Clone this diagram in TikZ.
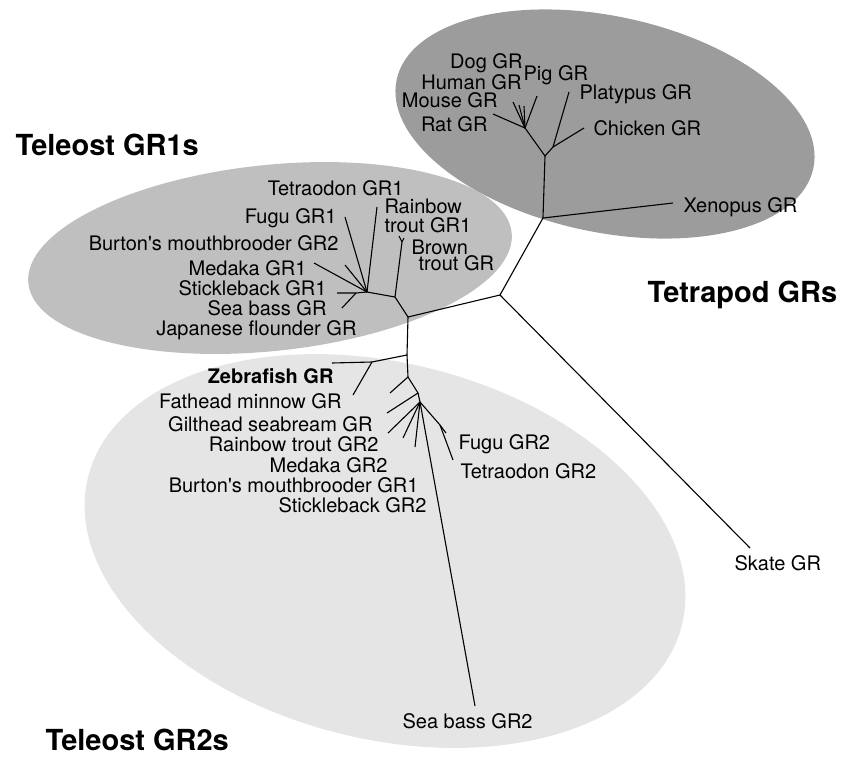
\documentclass[tikz,border=0pt]{standalone}
\usepackage{fontspec}
\setmainfont{TeX Gyre Heros}
\usetikzlibrary{positioning}

\definecolor{tetrafill}{gray}{0.61}
\definecolor{gronefill}{gray}{0.75}
\definecolor{grtwofill}{gray}{0.90}

\begin{document}
\begin{tikzpicture}[x=1pt, y=-1pt, line width=1.1pt,
    every node/.style={font=\fontsize{20}{18}\selectfont, inner sep=0pt},
    grp/.style={font=\bfseries\fontsize{29}{30}\selectfont}]
    \useasboundingbox (0,0) rectangle (849,756);

    % group shading
    \fill[grtwofill, rotate around={-14:(385,551)}] (385,551) ellipse [x radius=306, y radius=188];
    \fill[gronefill, rotate around={6:(270,258)}] (270,258) ellipse [x radius=243, y radius=93];
    \fill[tetrafill, rotate around={-12:(605,124)}] (605,124) ellipse [x radius=213, y radius=108];

    % inner points of the tree
    \coordinate (root) at (500,295);
    \coordinate (tp) at (543,218);
    \coordinate (tpa) at (545,156);
    \coordinate (mam) at (525,128);
    \coordinate (bird) at (553,147);
    \coordinate (tel) at (408,317);
    \coordinate (one) at (395,297);
    \coordinate (trout) at (402,242);
    \coordinate (perc) at (367,292);
    \coordinate (sb) at (356,293);
    \coordinate (two) at (407,355);
    \coordinate (cyp) at (372,362);
    \coordinate (twoa) at (408,377);
    \coordinate (twob) at (418,393);
    \coordinate (twoc) at (420,402);
    \coordinate (puf) at (440,425);

    % tips
    \coordinate (xenopust) at (673,203);
    \coordinate (platypust) at (569,92);
    \coordinate (chickent) at (584,128);
    \coordinate (ratt) at (493,114);
    \coordinate (mouset) at (513,102);
    \coordinate (humant) at (519,105);
    \coordinate (dogt) at (524,106);
    \coordinate (pigt) at (537,96);
    \coordinate (skatet) at (750,548);
    \coordinate (rainbowt) at (399,236);
    \coordinate (brownt) at (404,238);
    \coordinate (tetraodont) at (377,207);
    \coordinate (fugut) at (345,217);
    \coordinate (burtont) at (345,265);
    \coordinate (medakat) at (314,263);
    \coordinate (sticklebackt) at (337,293);
    \coordinate (seabasst) at (342,308);
    \coordinate (zebrafisht) at (332,363);
    \coordinate (fatheadt) at (353,395);
    \coordinate (giltheadt) at (390,393);
    \coordinate (rainbowtwot) at (387,413);
    \coordinate (medakatwot) at (388,433);
    \coordinate (burtontwot) at (403,438);
    \coordinate (sticklebacktwot) at (415,447);
    \coordinate (fugutwot) at (446,433);
    \coordinate (tetraodontwot) at (453,460);
    \coordinate (seabasstwot) at (475,706);

    % branches
    \draw (skatet) -- (root) -- (tel);
    \draw (root) -- (tp) -- (tpa) -- (mam);
    \draw (tp) -- (xenopust);
    \draw (tpa) -- (bird) -- (platypust);
    \draw (bird) -- (chickent);
    \draw (mam) -- (ratt);
    \draw (mam) -- (mouset);
    \draw (mam) -- (humant);
    \draw (mam) -- (dogt);
    \draw (mam) -- (pigt);
    \draw (tel) -- (one) -- (trout) -- (rainbowt);
    \draw (trout) -- (brownt);
    \draw (one) -- (perc) -- (tetraodont);
    \draw (perc) -- (fugut);
    \draw (perc) -- (burtont);
    \draw (perc) -- (medakat);
    \draw (perc) -- (sb) -- (sticklebackt);
    \draw (sb) -- (seabasst);
    \draw (tel) -- (two) -- (cyp) -- (zebrafisht);
    \draw (cyp) -- (fatheadt);
    \draw (two) -- (twoa) -- (giltheadt);
    \draw (twoa) -- (twob) -- (rainbowtwot);
    \draw (twob) -- (twoc) -- (medakatwot);
    \draw (twoc) -- (burtontwot);
    \draw (twoc) -- (sticklebacktwot);
    \draw (twoc) -- (seabasstwot);
    \draw (twoc) -- (puf) -- (fugutwot);
    \draw (puf) -- (tetraodontwot);

    % tetrapods
    \node[anchor=base east] (dog) at (523,68) {Dog GR};
    \node[anchor=base west] (pig) at (523,80) {Pig GR};
    \node[anchor=base east] (human) at (522,89) {Human GR};
    \node[anchor=base east] (mouse) at (498,107) {Mouse GR};
    \node[anchor=base east] (rat) at (488,131) {Rat GR};
    \node[anchor=base west] (platypus) at (579,99) {Platypus GR};
    \node[anchor=base west] (chicken) at (593,135) {Chicken GR};
    \node[anchor=base west] (xenopus) at (683,212) {Xenopus GR};
    \node[anchor=base west] (skate) at (734,570) {Skate GR};

    % teleost GR1
    \node[anchor=base east] (tetraodon) at (404,195) {Tetraodon GR1};
    \node[anchor=north west, align=left, font=\fontsize{20}{19}\selectfont] (rainbow) at (384,198) {Rainbow\\trout GR1};
    \node[anchor=north west, align=left, font=\fontsize{20}{16}\selectfont] (brown) at (411,239) {Brown\\\hspace*{7pt}trout GR};
    \node[anchor=base east] (fugu) at (337,223) {Fugu GR1};
    \node[anchor=base east] (burton) at (339,250) {Burton\textquotesingle s mouthbrooder GR2};
    \node[anchor=base east] (medaka) at (307,275) {Medaka GR1};
    \node[anchor=base east] (stickleback) at (327,295) {Stickleback GR1};
    \node[anchor=base east] (seabass) at (327,315) {Sea bass GR};
    \node[anchor=base east] (flounder) at (357,335) {Japanese flounder GR};

    % teleost GR2
    \node[anchor=base east, font=\bfseries\fontsize{20}{18}\selectfont] (zebrafish) at (334,383) {Zebrafish GR};
    \node[anchor=base east] (fathead) at (342,408) {Fathead minnow GR};
    \node[anchor=base east] (gilthead) at (373,431) {Gilthead seabream GR};
    \node[anchor=base east] (rainbowtwo) at (379,451) {Rainbow trout GR2};
    \node[anchor=base east] (medakatwo) at (388,472) {Medaka GR2};
    \node[anchor=base east] (burtontwo) at (419,492) {Burton\textquotesingle s mouthbrooder GR1};
    \node[anchor=base east] (sticklebacktwo) at (427,512) {Stickleback GR2};
    \node[anchor=base west] (fugutwo) at (458,449) {Fugu GR2};
    \node[anchor=base west] (tetraodontwo) at (460,478) {Tetraodon GR2};
    \node[anchor=base west] (seabasstwo) at (402,728) {Sea bass GR2};

    % group titles
    \node[grp, anchor=base west] (gone) at (15,155) {Teleost GR1s};
    \node[grp, anchor=base west] (tetrapods) at (647,302) {Tetrapod GRs};
    \node[grp, anchor=base west] (gtwo) at (45,750) {Teleost GR2s};
\end{tikzpicture}
\end{document}
